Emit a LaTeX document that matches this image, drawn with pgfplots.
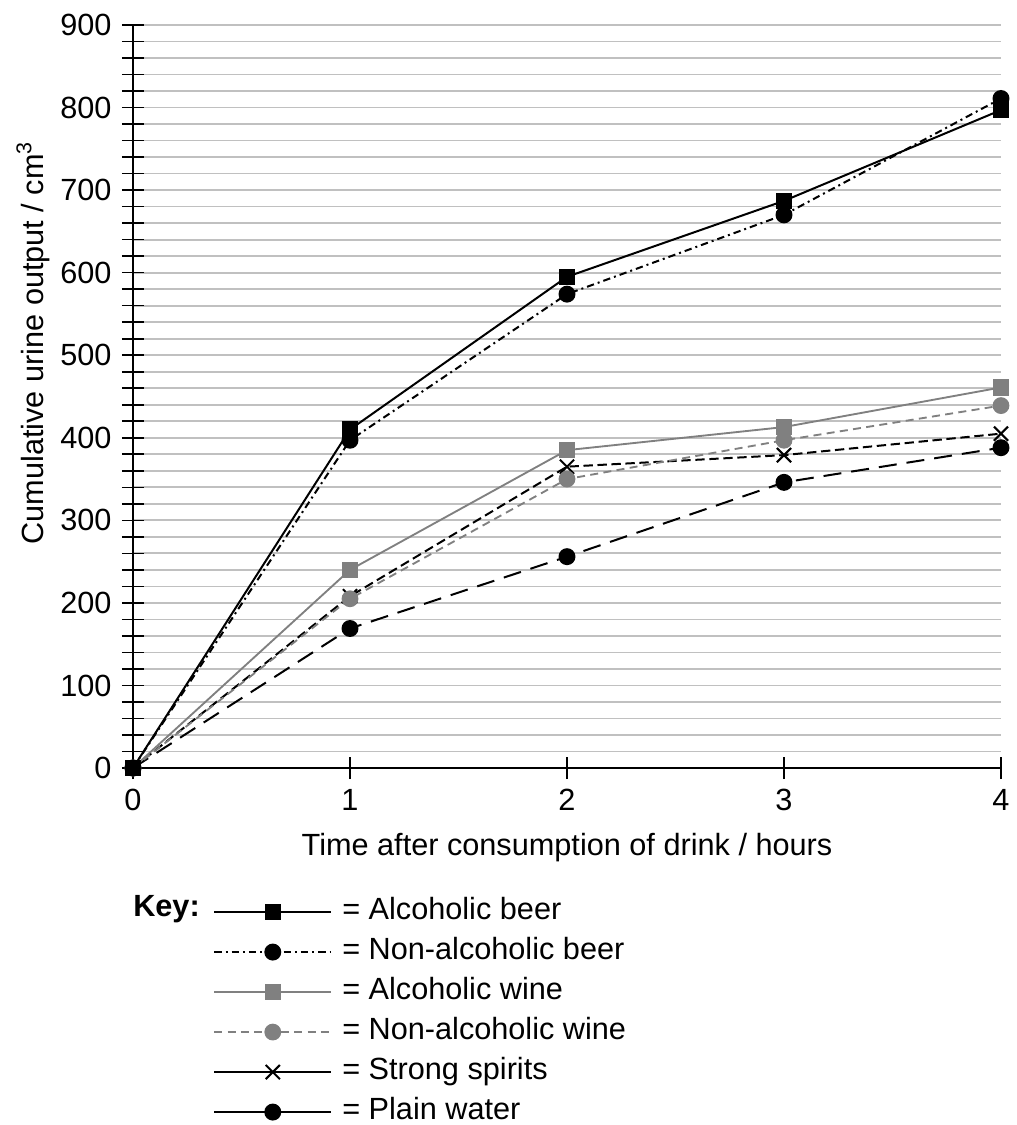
\documentclass[border=0pt]{standalone}
\usepackage{pgfplots}
\pgfplotsset{compat=1.18}
\usepackage{fontspec}
\setmainfont{Liberation Sans}
\definecolor{winegray}{RGB}{128,128,128}
\definecolor{gridc}{RGB}{192,192,192}
\newcommand{\chartfont}{\fontsize{23}{27}\selectfont}
\begin{document}
\chartfont
\begin{tikzpicture}
\useasboundingbox (-99.75pt,-267.75pt) rectangle (663pt,576pt);
\begin{axis}[
  scale only axis, width=651pt, height=557.25pt,
  xmin=0, xmax=4, ymin=0, ymax=900,
  clip=false,
  axis x line=bottom, axis y line=left,
  axis line style={-, line width=1.5pt, black},
  xtick={0,1,2,3,4}, ytick={0,100,...,900},
  minor y tick num=4,
  ymajorgrids, yminorgrids,
  major grid style={gridc, line width=1.3pt},
  minor grid style={gridc, line width=1.3pt},
  tick align=center, major tick length=16.5pt, minor tick length=16.5pt,
  every tick/.style={black, line width=1.2pt},
  /pgf/number format/assume math mode=true,
  tick label style={font=\chartfont},
  every axis y label/.style={at={(axis description cs:-0.1152,0.572)}, rotate=90, anchor=center, font=\chartfont},
  every axis x label/.style={at={(axis description cs:0.5,-0.1077)}, anchor=center, font=\chartfont},
  xlabel={Time after consumption of drink / hours},
  ylabel={Cumulative urine output / cm\textsuperscript{3}},
  legend style={at={(axis description cs:0.0922,-0.1747)}, anchor=north west, draw=none, fill=none,
    inner sep=0pt, column sep=7.5pt, row sep=9pt, font=\chartfont,
    nodes={inner sep=0pt, text height=16pt, text depth=5pt}},
  legend cell align=left,
  legend image code/.code={\draw[mark repeat=2,mark phase=2,#1] plot coordinates {(0pt,0pt) (43.875pt,0pt) (87.75pt,0pt)};},
]
% plain water
\addplot[black, line width=1.5pt, dash pattern=on 13.5pt off 7.5pt, mark=*, mark size=5.6pt, mark options={solid}, forget plot]
  coordinates {(0,0) (1,169) (2,256) (3,346) (4,388)};
% strong spirits
\addplot[black, line width=1.5pt, dash pattern=on 7pt off 3.5pt, mark=x, mark size=7.5pt, mark options={solid, line width=1.5pt}, forget plot]
  coordinates {(0,0) (1,208) (2,365) (3,379) (4,405)};
% non-alcoholic wine
\addplot[winegray, line width=1.4pt, dash pattern=on 6pt off 4pt, mark=*, mark size=5.6pt, mark options={solid}, forget plot]
  coordinates {(0,0) (1,205) (2,350) (3,397) (4,439)};
% alcoholic wine
\addplot[winegray, line width=1.4pt, mark=square*, mark size=5.4pt, mark options={solid}, forget plot]
  coordinates {(0,0) (1,240) (2,385) (3,413) (4,461)};
% non-alcoholic beer
\addplot[black, line width=1.5pt, dash pattern=on 5.5pt off 3pt on 1.5pt off 3pt, mark=*, mark size=5.6pt, mark options={solid}, forget plot]
  coordinates {(0,0) (1,397) (2,574) (3,670) (4,811)};
% alcoholic beer
\addplot[black, line width=1.5pt, mark=square*, mark size=5.4pt, mark options={solid}, forget plot]
  coordinates {(0,0) (1,410) (2,595) (3,687) (4,797)};

\addlegendimage{black, line width=1.5pt, mark=square*, mark size=5.4pt, mark options={solid}}
\addlegendimage{black, line width=1.5pt, dash pattern=on 5.5pt off 3pt on 1.5pt off 3pt, mark=*, mark size=5.6pt, mark options={solid}}
\addlegendimage{winegray, line width=1.4pt, mark=square*, mark size=5.4pt, mark options={solid}}
\addlegendimage{winegray, line width=1.4pt, dash pattern=on 6pt off 4pt, mark=*, mark size=5.6pt, mark options={solid}}
\addlegendimage{black, line width=1.5pt, mark=x, mark size=7.5pt, mark options={solid, line width=1.5pt}}
\addlegendimage{black, line width=1.5pt, mark=*, mark size=5.6pt, mark options={solid}}
\legend{= Alcoholic beer, = Non-alcoholic beer, = Alcoholic wine, = Non-alcoholic wine, = Strong spirits, = Plain water}
\node[anchor=west, inner sep=0pt, font=\chartfont\bfseries] at (axis description cs:0,-0.1898) {Key:};
\end{axis}
\end{tikzpicture}
\end{document}
